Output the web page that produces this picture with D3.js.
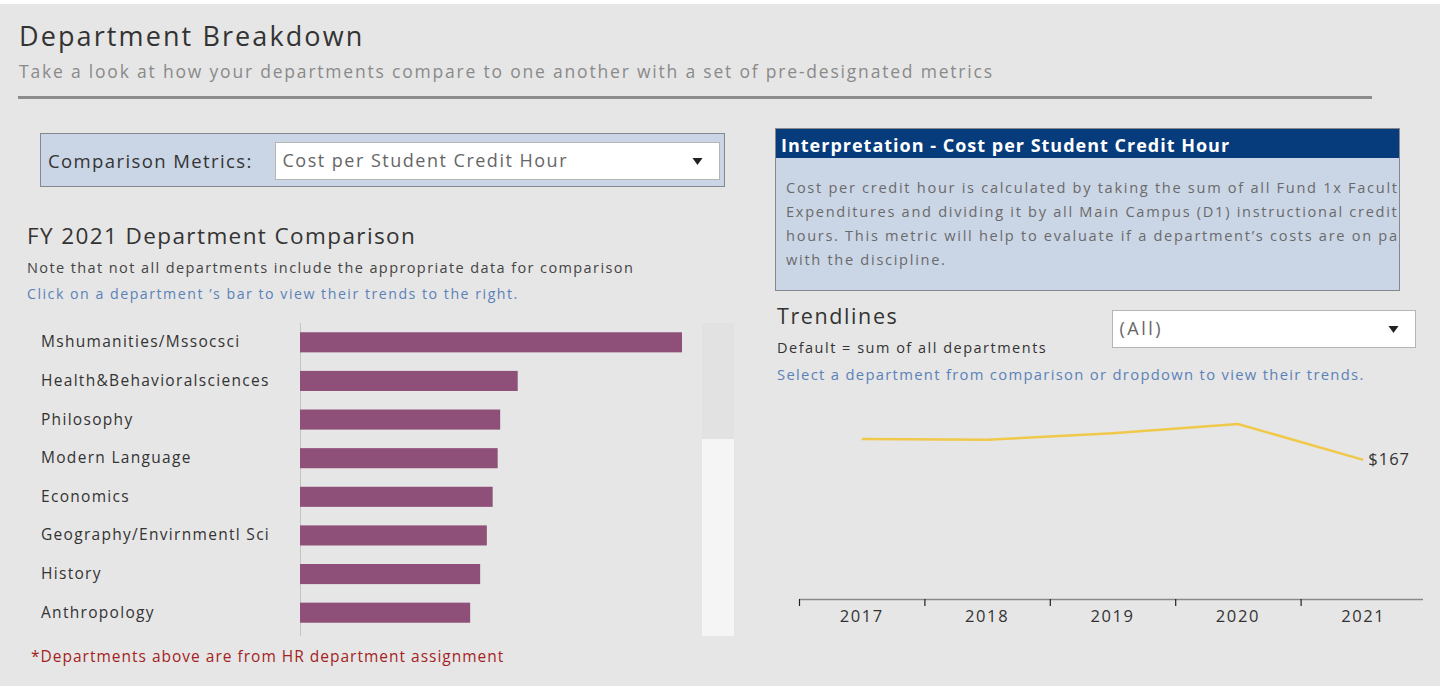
<!DOCTYPE html>
<html>
<head>
<meta charset="utf-8">
<script src="https://cdn.jsdelivr.net/npm/d3@7"></script>
<style>
  body { margin: 0; background: #fff; }
  svg { display: block; font-family: "Open Sans", "Noto Sans", sans-serif; }
</style>
</head>
<body>
<div id="dashboard"></div>
<script>
// data
const departments = ["Mshumanities/Mssocsci", "Health&Behavioralsciences", "Philosophy", "Modern Language",
  "Economics", "Geography/Envirnmentl Sci", "History", "Anthropology"];
const costPerHour = [458, 261, 240, 237, 231, 224, 216, 204];

const years = ["2017", "2018", "2019", "2020", "2021"];
const trendValues = [192, 191, 199, 210, 167];

const bodyLines = [
  "Cost per credit hour is calculated by taking the sum of all Fund 1x Faculty",
  "Expenditures  and dividing it by all Main Campus (D1) instructional credit",
  "hours. This metric will help to evaluate if a department\u2019s costs are on par",
  "with the discipline."
];

const W = 1443, H = 689;
const bg = "#e6e6e6", panelBlue = "#cad6e6", linkBlue = "#5b82b8";

const svg = d3.select("#dashboard").append("svg")
  .attr("width", W)
  .attr("height", H);

svg.append("rect").attr("x", 0).attr("y", 4).attr("width", 1440).attr("height", 682).attr("fill", bg);

// small text helper (tableau font is spaced wider)
function label(x, y, size, spacing, color, txt) {
  return svg.append("text").attr("x", x).attr("y", y)
    .attr("font-size", size).attr("letter-spacing", spacing)
    .attr("fill", color).text(txt);
}

// header
label(19, 46, 27, 2.1, "#333", "Department Breakdown");
label(19, 78, 17.5, 1.8, "#8a8a8a",
  "Take a look at how your departments compare to one another with a set of pre-designated metrics");
svg.append("rect").attr("x", 18).attr("y", 96).attr("width", 1354).attr("height", 3).attr("fill", "#8c8c8c");

// dropdown helper
function dropdown(x, y, w, h, txt, spacing) {
  const g = svg.append("g");
  g.append("rect").attr("x", x).attr("y", y).attr("width", w).attr("height", h)
    .attr("fill", "#fff").attr("stroke", "#b5b5b5");
  g.append("text").attr("x", x + 7).attr("y", y + h / 2 + 6)
    .attr("font-size", 18).attr("letter-spacing", spacing).attr("fill", "#666").text(txt);
  const ax = x + w - 27, ay = y + h / 2 - 3;
  g.append("path").attr("d", `M${ax},${ay}L${ax + 10},${ay}L${ax + 5},${ay + 7}Z`).attr("fill", "#222");
}

// comparison metrics control
svg.append("rect").attr("x", 40.5).attr("y", 133.5).attr("width", 684).attr("height", 53)
  .attr("fill", panelBlue).attr("stroke", "#333").attr("stroke-dasharray", "1,1");
label(48, 168, 18.5, 1.4, "#333", "Comparison Metrics:");
dropdown(275.5, 142.5, 444, 37, "Cost per Student Credit Hour", 1.5);

// bar chart titles
label(27, 244, 22.5, 1.4, "#333", "FY 2021 Department Comparison");
label(27, 273, 14.5, 1.4, "#444", "Note that not all departments include the appropriate data for comparison");
label(27, 299, 14.2, 1.5, linkBlue, "Click on a department \u2019s bar to view their trends to the right.");

// bar chart
const y = d3.scaleBand().domain(departments).range([323, 632]).paddingInner(0.48).paddingOuter(0.24);
const x = d3.scaleLinear().domain([0, d3.max(costPerHour)]).range([300, 682]);

// scrollbar
svg.append("rect").attr("x", 702).attr("y", 323).attr("width", 32).attr("height", 313).attr("fill", "#f5f5f5");
svg.append("rect").attr("x", 702).attr("y", 323).attr("width", 32).attr("height", 116).attr("fill", "#e2e2e2");

const yAxis = svg.append("g").attr("transform", "translate(300,0)")
  .call(d3.axisLeft(y).tickSize(0).tickPadding(0));
yAxis.select(".domain").attr("d", "M0.5,323V636").attr("stroke", "#c4c4c4");
yAxis.selectAll("text")
  .attr("x", 41 - 300).attr("text-anchor", "start")
  .attr("font-family", "'Open Sans', sans-serif")
  .attr("font-size", 15.5).attr("letter-spacing", 1.3).attr("fill", "#333");

svg.append("g").selectAll("rect")
  .data(departments.map((d, i) => ({dept: d, value: costPerHour[i]})))
  .join("rect")
  .attr("x", x(0))
  .attr("y", d => y(d.dept))
  .attr("width", d => x(d.value) - x(0))
  .attr("height", y.bandwidth())
  .attr("fill", "#8e4f78");

label(31, 662, 15.5, 1.0, "#a31f24", "*Departments above are from HR department assignment");

// interpretation panel
svg.append("rect").attr("x", 775.5).attr("y", 128.5).attr("width", 624).attr("height", 162)
  .attr("fill", panelBlue).attr("stroke", "#333").attr("stroke-dasharray", "1,1");
svg.append("rect").attr("x", 776).attr("y", 129).attr("width", 623).attr("height", 29).attr("fill", "#063b7c");
label(781, 152, 18, 1.0, "#fff", "Interpretation - Cost per Student Credit Hour").attr("font-weight", "bold");

svg.append("clipPath").attr("id", "panelClip")
  .append("rect").attr("x", 776).attr("y", 158).attr("width", 622).attr("height", 132);
svg.append("g").attr("clip-path", "url(#panelClip)")
  .selectAll("text").data(bodyLines).join("text")
  .attr("x", 786).attr("y", (d, i) => 193 + i * 24)
  .attr("font-size", 14.6).attr("letter-spacing", 1.7).attr("fill", "#6a6a6a").text(d => d);

// trendlines
label(777, 324, 21.5, 1.6, "#333", "Trendlines");
label(777, 353, 14.5, 1.5, "#333", "Default = sum of all departments");
label(777, 380, 14.8, 1.3, linkBlue, "Select a department from comparison or dropdown to view their trends.");
dropdown(1112.5, 310.5, 303, 37, "(All)", 2.5);

const xT = d3.scaleBand().domain(years).range([799, 1426]);
const yT = d3.scaleLinear().domain([0, 210]).range([599, 424]);

const xAxis = svg.append("g").attr("transform", "translate(0,599)")
  .call(d3.axisBottom(xT).tickSize(0).tickPadding(11));
xAxis.select(".domain").attr("d", "M799,0.5H1423").attr("stroke", "#8a8a8a").attr("stroke-width", 1.5);
xAxis.selectAll("text").attr("font-family", "'Open Sans', sans-serif")
  .attr("font-size", 16.5).attr("letter-spacing", 1.6).attr("fill", "#333");

svg.append("g").selectAll("line").data(years).join("line")
  .attr("x1", d => xT(d) + 0.5).attr("x2", d => xT(d) + 0.5)
  .attr("y1", 599).attr("y2", 606)
  .attr("stroke", "#222").attr("stroke-width", 1.2);

const line = d3.line()
  .x((d, i) => xT(years[i]) + xT.bandwidth() / 2)
  .y(d => yT(d));

svg.append("path").datum(trendValues)
  .attr("d", line)
  .attr("fill", "none")
  .attr("stroke", "#f0c84a")
  .attr("stroke-width", 2.5);

const last = trendValues.length - 1;
svg.append("text")
  .attr("x", xT(years[last]) + xT.bandwidth() / 2 + 5)
  .attr("y", yT(trendValues[last]) + 5)
  .attr("font-size", 16.5).attr("letter-spacing", 1).attr("fill", "#333")
  .text("$" + trendValues[last]);
</script>
</body>
</html>
